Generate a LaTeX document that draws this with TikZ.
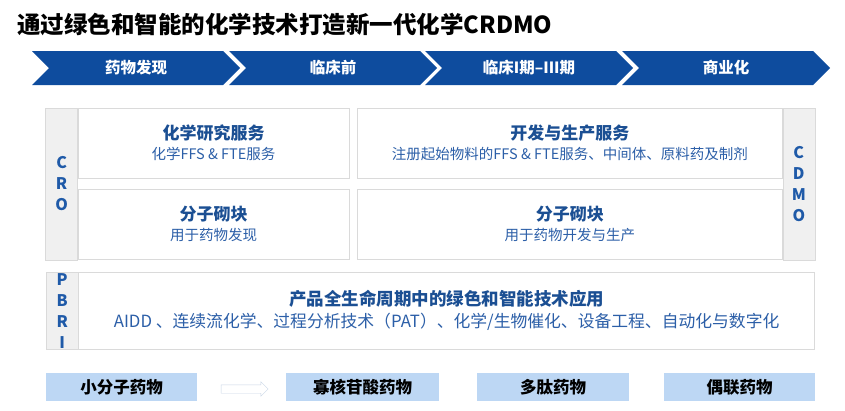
\documentclass[tikz,border=0pt]{standalone}
\usepackage{fontspec}
\setmainfont{Noto Sans CJK SC}
\usetikzlibrary{positioning,shapes.symbols,shapes.arrows}

\definecolor{phaseblue}{HTML}{0E4C9E}
\definecolor{headblue}{HTML}{1B4F93}
\definecolor{subblue}{HTML}{2C5FA8}
\definecolor{letterblue}{HTML}{1F5AA8}
\definecolor{sidegray}{HTML}{F0F0F0}
\definecolor{linegray}{HTML}{DADADA}
\definecolor{druglight}{HTML}{BDD7F4}
\definecolor{arrowgray}{HTML}{C9D6E6}

\newcommand{\hd}[2][17]{{\fontsize{#1}{20}\selectfont\bfseries\color{headblue}#2}}

\tikzstyle{phase} = [signal, signal to=east, signal from=west, signal pointer angle=90, minimum width=208pt, minimum height=34pt, inner sep=0pt, fill=phaseblue, text=white, font=\fontsize{15.5}{15.5}\selectfont\bfseries]
\tikzstyle{sidebar} = [rectangle, draw=linegray, fill=sidegray, minimum width=32pt, inner sep=0pt, align=center, text=letterblue, font=\fontsize{16}{21}\selectfont\bfseries]
\tikzstyle{service} = [rectangle, draw=linegray, fill=white, minimum height=70pt, inner sep=0pt, align=center, text=subblue, font=\fontsize{14.5}{20}\selectfont]
\tikzstyle{drug} = [rectangle, fill=druglight, minimum height=28pt, inner sep=0pt, font=\fontsize{16.5}{16.5}\selectfont\bfseries]
\tikzstyle{flow} = [single arrow, draw=arrowgray, fill=white, single arrow head extend=3pt, minimum height=47pt, inner xsep=0pt, inner ysep=4pt]

\begin{document}
\begin{tikzpicture}[x=1pt,y=-1pt]
	\useasboundingbox (0,0) rectangle (845,410);
	\node (title) [anchor=west, inner sep=0pt, font=\fontsize{23.5}{23.5}\selectfont\bfseries] at (17,24) {通过绿色和智能的化学技术打造新一代化学CRDMO};

	% stages
	\node (ph1) [phase] at (136,68) {药物发现};
	\node (ph2) [phase] at (333,68) {临床前};
	\node (ph3) [phase] at (529,68) {临床I期–III期};
	\node (ph4) [phase] at (726,68) {商业化};

	% CRO / CDMO
	\node (crotop) [service, minimum width=271pt] at (213.5,143) {\hd{化学研究服务}\\化学FFS \& FTE服务};
	\node (crobot) [service, minimum width=271pt, below=11pt of crotop] {\hd{分子砌块}\\用于药物发现};
	\node (cro) [sidebar, minimum height=152pt, anchor=north east] at (crotop.north west) {C\\R\\O};
	\node (cdmotop) [service, minimum width=425pt, right=8pt of crotop] {\hd{开发与生产服务}\\注册起始物料的FFS \& FTE服务、中间体、原料药及制剂};
	\node (cdmobot) [service, minimum width=425pt, below=11pt of cdmotop] {\hd{分子砌块}\\用于药物开发与生产};
	\node (cdmo) [sidebar, minimum height=152pt, anchor=north west] at (cdmotop.north east) {C\\D\\M\\O};

	% PBRI
	\node (pbri) [sidebar, minimum height=77pt, anchor=north west] at (46,272) {P\\B\\R\\I};
	\node (green) [service, minimum width=736pt, minimum height=77pt, anchor=north west, font=\fontsize{16.8}{22}\selectfont] at (pbri.north east) {\hd[17.5]{产品全生命周期中的绿色和智能技术应用}\\AIDD 、连续流化学、过程分析技术（PAT）、化学/生物催化、设备工程、自动化与数字化};

	% drug types
	\node (small) [drug, minimum width=151pt] at (121.5,387) {小分子药物};
	\node (oligo) [drug, minimum width=153pt] at (362.5,387) {寡核苷酸药物};
	\node (pep) [drug, minimum width=152pt] at (553,387) {多肽药物};
	\node (adc) [drug, minimum width=151pt] at (739.5,387) {偶联药物};
	\node (next) [flow] at (242.5,389) {};
\end{tikzpicture}
\end{document}
